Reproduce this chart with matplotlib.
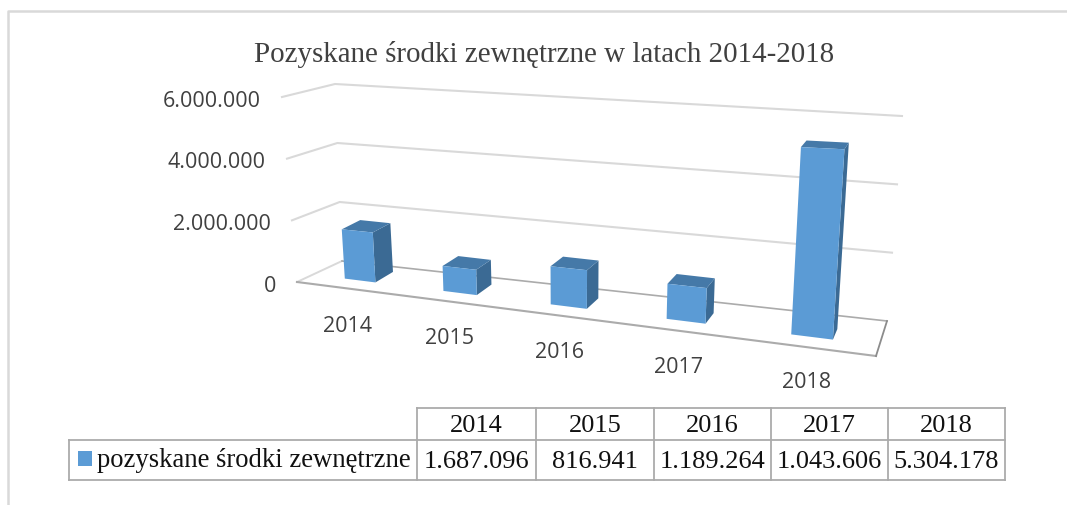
import matplotlib
matplotlib.use('Agg')
import matplotlib.pyplot as plt
from matplotlib.patches import Polygon, Rectangle

years = ['2014', '2015', '2016', '2017', '2018']
values = [1687096, 816941, 1189264, 1043606, 5304178]
yticks = [0, 2000000, 4000000, 6000000]
series_name = 'pozyskane środki zewnętrzne'
title = 'Pozyskane środki zewnętrzne w latach 2014-2018'

FRONT = '#5B9BD5'
SIDE = '#3B6A94'
TOP = '#4579A8'
GRID = '#D9D9D9'
FLOOR = '#ABABAB'
TEXT = '#404040'
SERIF = 'Liberation Serif'
SANS = 'Open Sans'


def fmt(v):
    return f"{v:,}".replace(',', '.')


def project(c, depth, value):
    # fake perspective: category position, bar depth (0-1) and value to pixels
    m = value / 1e6
    x0 = 360 + 95.67 * c + 4.33 * c * c
    y0 = 281.5 + 0.125 * (x0 - 360)
    scale = 29.2 + 0.0137 * (x0 - 345)
    tilt = -1.8 + 3.8 * (x0 - 345) / 467
    dx = 18 - 13 * (x0 - 360) / 452
    dy = -10.5 * (1 - 0.07 * m)
    return (x0 + depth * dx + m * tilt, y0 + depth * dy - m * scale)


def wall(p0, p6, value):
    t = value / yticks[-1]
    return (p0[0] + (p6[0] - p0[0]) * t, p0[1] + (p6[1] - p0[1]) * t)


fig = plt.figure(figsize=(10.67, 5.06), dpi=100)
ax = fig.add_axes([0, 0, 1, 1])
ax.set_xlim(0, 1067)
ax.set_ylim(506, 0)
ax.axis('off')

# picture frame
ax.plot([8, 8, 1067], [506, 12, 12], color=GRID, lw=1.8, zorder=1)

ax.text(544, 54, title, family=SERIF, fontsize=20.9, color=TEXT, ha='center', va='center')

# walls and gridlines
left_front = [(297, 283), (282, 98)]
left_back = [(342, 262), (335, 85)]
right_back = [(887, 322), (902, 117)]
for v in yticks:
    pts = [wall(*left_front, v), wall(*left_back, v), wall(*right_back, v)]
    if v > 0:
        ax.plot([p[0] for p in pts], [p[1] for p in pts], color=GRID, lw=1.5, zorder=2)
    ax.text(pts[0][0] - 21, pts[0][1] + 3, fmt(v), family=SANS, fontsize=15.5, color=TEXT, ha='right', va='center')

# floor
ax.plot([297, 342], [283, 262], color=GRID, lw=1.4, zorder=3)
ax.plot([342, 887], [262, 322], color=FLOOR, lw=1.2, zorder=3)
ax.plot([297, 876], [283, 357], color=FLOOR, lw=1.5, zorder=3)
ax.plot([887, 876], [322, 357], color='#8C8C8C', lw=1.3, zorder=3)

# bars
half = 0.16
for i, v in enumerate(values):
    fl0 = project(i - half, 0, 0)
    fr0 = project(i + half, 0, 0)
    br0 = project(i + half, 1, 0)
    fl1 = project(i - half, 0, v)
    fr1 = project(i + half, 0, v)
    br1 = project(i + half, 1, v)
    bl1 = project(i - half, 1, v)
    ax.add_patch(Polygon([fr0, br0, br1, fr1], facecolor=SIDE, edgecolor='none', zorder=4))
    ax.add_patch(Polygon([fl1, bl1, br1, fr1], facecolor=TOP, edgecolor='none', zorder=4))
    ax.add_patch(Polygon([fl0, fr0, fr1, fl1], facecolor=FRONT, edgecolor='none', zorder=5))
    base = project(i, 0, 0)
    ax.text(base[0] - 13 + 2 * i, base[1] + 45, years[i], family=SANS, fontsize=15.5, color=TEXT,
            ha='center', va='center')

# data table
col_x = [417, 536, 654, 771, 888, 1005]
row_y = [409, 441, 481]
left = 69
ax.plot([col_x[0], col_x[-1]], [row_y[0], row_y[0]], color=FLOOR, lw=1.3)
ax.plot([left, col_x[-1]], [row_y[1], row_y[1]], color=FLOOR, lw=1.3)
ax.plot([left, col_x[-1]], [row_y[2], row_y[2]], color=FLOOR, lw=1.3)
ax.plot([left, left], [row_y[1], row_y[2]], color=FLOOR, lw=1.3)
for x in col_x:
    ax.plot([x, x], [row_y[0], row_y[2]], color=FLOOR, lw=1.3)
for i in range(len(years)):
    xc = (col_x[i] + col_x[i + 1]) / 2
    ax.text(xc, 426, years[i], family=SERIF, fontsize=19, color='#111111', ha='center', va='center')
    ax.text(xc, 462, fmt(values[i]), family=SERIF, fontsize=19, color='#111111', ha='center', va='center')
ax.add_patch(Rectangle((78, 452), 14, 15, facecolor=FRONT, edgecolor='none'))
ax.text(97, 461, series_name, family=SERIF, fontsize=19.2, color='#111111', ha='left', va='center')

fig.savefig('out.png', dpi=100)
